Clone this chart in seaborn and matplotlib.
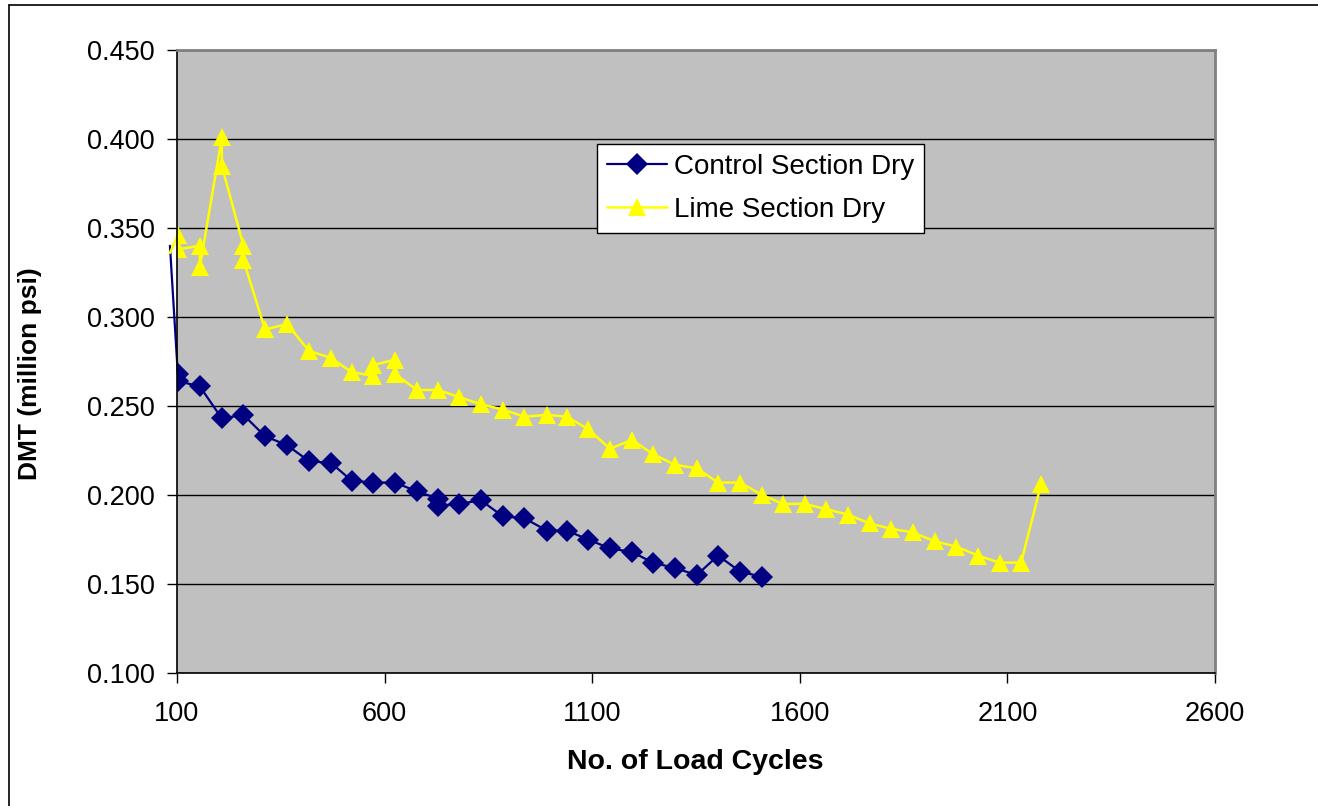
import matplotlib
matplotlib.use("Agg")
import matplotlib.pyplot as plt
from matplotlib.lines import Line2D
import seaborn as sns
import pandas as pd

# --- dane ---
control_x = [83, 102, 102, 155, 208, 260, 312, 365, 418, 471,
             521, 572, 625, 678, 729, 729, 779, 832, 885, 936,
             991, 1039, 1090, 1143, 1196, 1246, 1299, 1352, 1403, 1456,
             1509]
control_y = [0.340, 0.268, 0.264, 0.261, 0.243, 0.245, 0.233, 0.228, 0.219, 0.218,
             0.208, 0.207, 0.207, 0.202, 0.198, 0.194, 0.195, 0.197, 0.188, 0.187,
             0.180, 0.180, 0.175, 0.170, 0.168, 0.162, 0.159, 0.155, 0.166, 0.157,
             0.154]

lime_x = [83, 102, 102, 155, 155, 208, 208, 260, 260, 312,
          365, 418, 471, 521, 572, 572, 625, 625, 678, 729,
          779, 832, 885, 936, 991, 1039, 1090, 1143, 1196, 1246,
          1299, 1352, 1403, 1456, 1509, 1560, 1612, 1664, 1716, 1768,
          1820, 1872, 1925, 1977, 2029, 2081, 2133, 2181]
lime_y = [0.336, 0.346, 0.338, 0.340, 0.328, 0.401, 0.385, 0.340, 0.332, 0.293,
          0.296, 0.281, 0.277, 0.269, 0.267, 0.273, 0.276, 0.268, 0.259, 0.259,
          0.255, 0.251, 0.248, 0.244, 0.245, 0.244, 0.237, 0.226, 0.231, 0.223,
          0.217, 0.215, 0.207, 0.207, 0.200, 0.195, 0.195, 0.192, 0.189, 0.184,
          0.181, 0.179, 0.174, 0.171, 0.166, 0.162, 0.162, 0.206]

x_ticks = [100, 600, 1100, 1600, 2100, 2600]
y_ticks = [0.100, 0.150, 0.200, 0.250, 0.300, 0.350, 0.400, 0.450]

NAVY = '#000080'
YELLOW = '#FFFF00'

sns.set_style("white")
plt.rcParams['font.family'] = ['Liberation Sans', 'DejaVu Sans']
plt.rcParams['text.color'] = 'black'
plt.rcParams['axes.labelcolor'] = 'black'
plt.rcParams['xtick.color'] = 'black'
plt.rcParams['ytick.color'] = 'black'

fig = plt.figure(figsize=(13.18, 8.06), dpi=100)
ax = fig.add_axes([177/1318, 1 - 673/806, (1215-177)/1318, (673-50)/806])
ax.set_facecolor('#C0C0C0')

ctrl = pd.DataFrame({'x': control_x, 'y': control_y})
lime = pd.DataFrame({'x': lime_x, 'y': lime_y})

# pierwszy odcinek wychodzi poza obszar wykresu (punkt < 100 cykli)
sns.lineplot(data=ctrl.iloc[:2], x='x', y='y', sort=False, estimator=None,
             color=NAVY, lw=1.6, ax=ax, clip_on=False)
sns.lineplot(data=lime.iloc[:2], x='x', y='y', sort=False, estimator=None,
             color=YELLOW, lw=1.8, ax=ax, clip_on=False)

sns.lineplot(data=ctrl.iloc[1:], x='x', y='y', sort=False, estimator=None,
             color=NAVY, lw=1.6, marker='D', markersize=11, markeredgewidth=0,
             label='Control Section Dry', ax=ax)
sns.lineplot(data=lime.iloc[1:], x='x', y='y', sort=False, estimator=None,
             color=YELLOW, lw=1.8, marker='^', markersize=12.5, markeredgewidth=0,
             label='Lime Section Dry', ax=ax)

ax.set_xlim(100, 2600)
ax.set_ylim(0.100, 0.450)
ax.set_xticks(x_ticks)
ax.set_yticks(y_ticks)
ax.set_xticklabels([str(t) for t in x_ticks])
ax.set_yticklabels([f'{t:.3f}' for t in y_ticks])
ax.tick_params(axis='both', direction='out', length=7, width=1, color='black',
               labelcolor='black', labelsize=19.5, bottom=True, left=True)
ax.tick_params(axis='y', pad=9)
ax.tick_params(axis='x', pad=13)
ax.yaxis.grid(True, color='black', lw=1)
ax.xaxis.grid(False)
ax.set_axisbelow(True)

for side in ['left', 'bottom']:
    ax.spines[side].set_color('black')
    ax.spines[side].set_linewidth(1.2)
for side in ['top', 'right']:
    ax.spines[side].set_color('#808080')
    ax.spines[side].set_linewidth(2)

ax.set_xlabel('No. of Load Cycles', fontsize=20.5, fontweight='bold', color='black')
ax.set_ylabel('DMT (million psi)', fontsize=19, fontweight='bold', color='black')
ax.xaxis.set_label_coords(0.499, -0.122)
ax.yaxis.set_label_coords(-0.1416, 0.48)
ax.yaxis.label.set_va('center')

leg = ax.legend(loc='upper left', bbox_to_anchor=(0.4046, 0.849), borderaxespad=0,
                fontsize=20, frameon=True, fancybox=False, edgecolor='black',
                framealpha=1, handlelength=2.16, borderpad=0.36, labelspacing=0.6,
                handletextpad=0.25)
leg.get_frame().set_linewidth(1)
for t in leg.get_texts():
    t.set_color('black')

# ramka obszaru wykresu (widoczna góra i lewa krawędź)
fig.add_artist(Line2D([9/1318, 1], [1 - 5/806, 1 - 5/806], color='black', lw=1.2))
fig.add_artist(Line2D([9/1318, 9/1318], [0, 1 - 5/806], color='black', lw=1.2))

fig.savefig('out.png', dpi=100)
